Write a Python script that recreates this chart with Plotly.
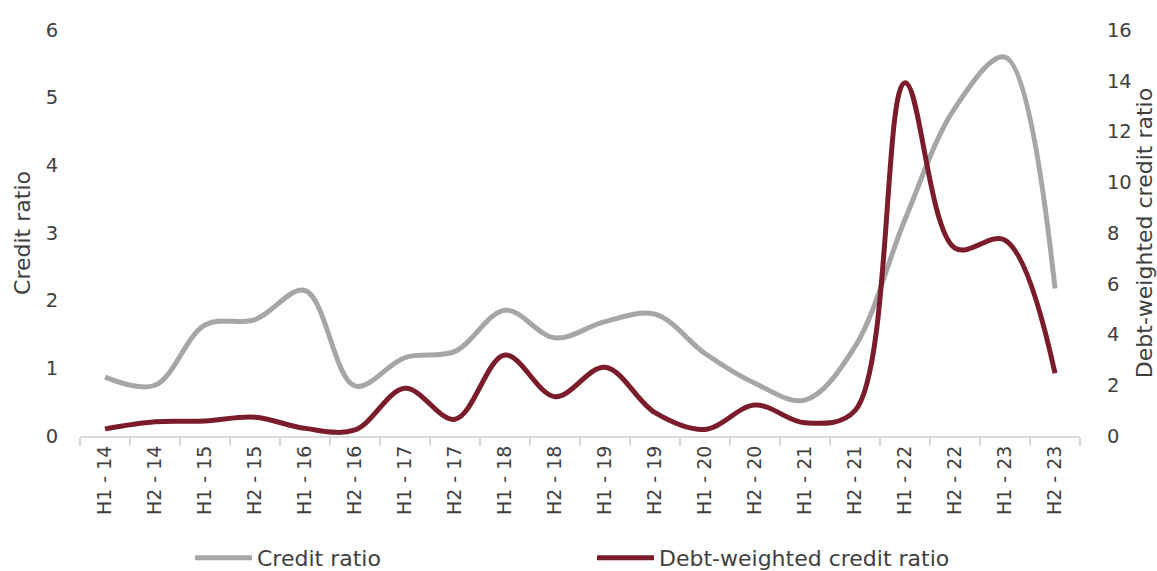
import plotly.graph_objects as go

periods = ["H1 - 14", "H2 - 14", "H1 - 15", "H2 - 15", "H1 - 16", "H2 - 16",
           "H1 - 17", "H2 - 17", "H1 - 18", "H2 - 18", "H1 - 19", "H2 - 19",
           "H1 - 20", "H2 - 20", "H1 - 21", "H2 - 21", "H1 - 22", "H2 - 22",
           "H1 - 23", "H2 - 23"]

credit_ratio = [0.87, 0.75, 1.64, 1.72, 2.15, 0.74, 1.16, 1.25, 1.86, 1.45,
                1.69, 1.80, 1.22, 0.78, 0.53, 1.32, 3.20, 4.85, 5.60, 2.18]

debt_weighted_ratio = [0.28, 0.56, 0.59, 0.74, 0.30, 0.24, 1.88, 0.66, 3.19, 1.55,
                       2.71, 0.92, 0.26, 1.22, 0.52, 1.00, 13.92, 7.40, 7.72, 2.47]

GREY = "#a6a6a6"
RED = "#7b1c2a"
TEXT = "#404040"
FONT = "DejaVu Sans"
CLEAR = "rgba(0,0,0,0)"

fig = go.Figure()
fig.add_trace(go.Scatter(
    x=periods, y=credit_ratio, name="Credit ratio", mode="lines",
    line=dict(color=GREY, width=5, shape="spline", smoothing=1.0),
    yaxis="y",
))
fig.add_trace(go.Scatter(
    x=periods, y=debt_weighted_ratio, name="Debt-weighted credit ratio", mode="lines",
    line=dict(color=RED, width=5, shape="spline", smoothing=1.0),
    yaxis="y2",
))

fig.update_layout(
    width=1157, height=571,
    margin=dict(l=80, r=77, t=30, b=135),
    paper_bgcolor="white", plot_bgcolor="white",
    font=dict(family=FONT, size=20, color=TEXT),
    showlegend=True,
    legend=dict(
        orientation="h", x=0.11, xanchor="left", xref="paper",
        y=0.023, yanchor="middle", yref="container",
        entrywidth=330, entrywidthmode="pixels",
        itemwidth=57,
        font=dict(family=FONT, size=22, color=TEXT),
        traceorder="normal",
    ),
    xaxis=dict(
        type="category", showgrid=False, zeroline=False, automargin=False,
        showline=True, linecolor="#d9d9d9", linewidth=2,
        ticks="outside", tickson="boundaries", ticklen=8, tickcolor="#d9d9d9", tickwidth=2,
        tickangle=-90, tickfont=dict(size=19, color=TEXT),
        range=[-0.5, 19.5],
    ),
    yaxis=dict(
        title=dict(text="Credit ratio", standoff=8, font=dict(size=22, color=TEXT)),
        range=[0, 6], dtick=1, showgrid=False, zeroline=False, showline=False,
        automargin=False,
        ticks="outside", ticklen=17, tickcolor=CLEAR,
        tickfont=dict(size=19.5, color=TEXT),
    ),
    yaxis2=dict(
        title=dict(text="Debt-weighted credit ratio", standoff=6, font=dict(size=22, color=TEXT)),
        range=[0, 16], dtick=2, overlaying="y", side="right",
        showgrid=False, zeroline=False, showline=False, automargin=False,
        ticks="outside", ticklen=22, tickcolor=CLEAR,
        tickfont=dict(size=19.5, color=TEXT),
    ),
)

fig.write_html("out.html")
